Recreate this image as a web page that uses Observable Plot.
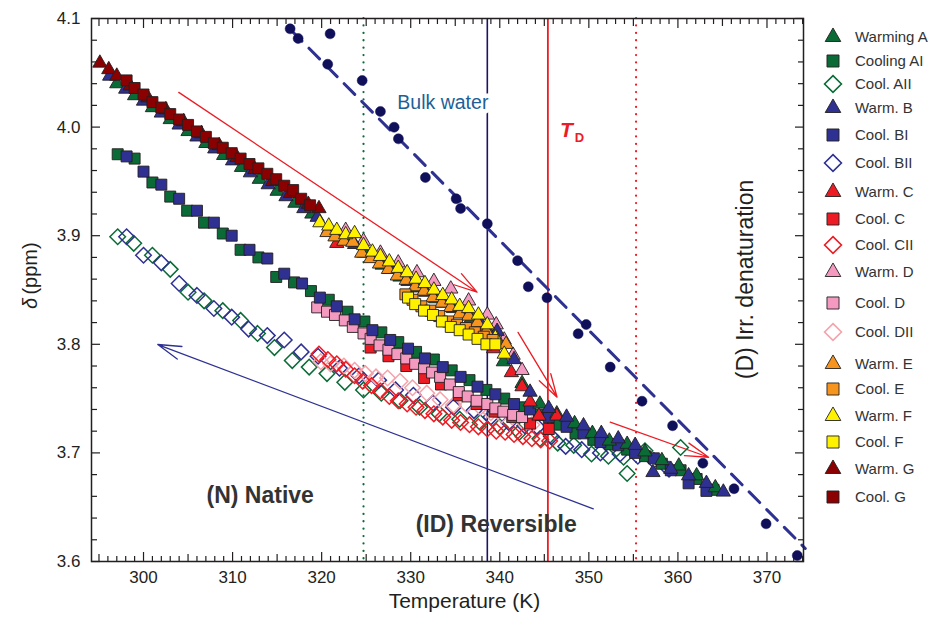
<!DOCTYPE html>
<html><head><meta charset="utf-8">
<script src="https://cdn.jsdelivr.net/npm/d3@7"></script>
<script src="https://cdn.jsdelivr.net/npm/@observablehq/plot@0.6"></script>
<style>
body{margin:0;background:#fff;}
#chart{position:relative;width:933px;height:627px;}
#chart svg{font-family:"Liberation Sans",Arial,Helvetica,sans-serif;}
</style></head><body><div id="chart"></div>
<script>
// ---------- data: [Temperature K, delta ppm] ----------
const warmA = [[297.0,4.040],[299.0,4.029],[301.0,4.018],[303.0,4.007],[305.0,3.996],[307.0,3.985],[309.0,3.974],[311.0,3.963],[313.0,3.952],[315.0,3.941],[317.0,3.930],[318.9,3.920],[320.8,3.906],[322.8,3.896],[324.8,3.884],[326.8,3.873],[328.8,3.862],[330.8,3.852],[332.8,3.842],[334.8,3.833],[336.8,3.824],[338.7,3.812],[340.4,3.784],[342.5,3.764],[344.5,3.745],[346.4,3.736],[348.4,3.727],[350.4,3.718],[352.3,3.711],[354.3,3.708],[356.3,3.701],[358.2,3.693],[360.1,3.688],[362.1,3.679],[364.2,3.668]];
const coolAI = [[297.1,3.975],[299.0,3.971],[301.0,3.949],[303.0,3.936],[304.9,3.923],[306.8,3.912],[308.9,3.902],[310.9,3.887],[312.9,3.880],[314.9,3.862],[316.9,3.857],[318.8,3.849],[320.8,3.841],[322.9,3.830],[324.8,3.821],[326.7,3.811],[328.6,3.802],[330.6,3.793],[332.6,3.786],[334.6,3.776],[336.6,3.767],[338.5,3.758],[340.5,3.750],[342.5,3.742],[344.4,3.735],[346.4,3.726],[348.5,3.718],[350.5,3.712],[352.4,3.708],[354.3,3.703],[356.3,3.697],[358.2,3.690],[360.3,3.684],[362.1,3.676],[364.0,3.666]];
const coolAII = [[297.1,3.899],[298.9,3.893],[301.0,3.882],[303.0,3.869],[305.0,3.848],[306.8,3.840],[308.9,3.831],[310.9,3.822],[312.8,3.810],[314.7,3.797],[316.7,3.785],[318.6,3.779],[320.6,3.773],[322.6,3.765],[324.7,3.758],[326.7,3.755],[328.8,3.748],[331.0,3.742],[333.2,3.736],[335.5,3.731],[337.8,3.728],[340.0,3.724],[342.2,3.719],[344.5,3.713],[346.5,3.709],[348.3,3.707],[350.3,3.699],[352.2,3.697],[353.9,3.696],[354.3,3.681],[356.3,3.702],[360.3,3.705]];
const warmB = [[296.2,4.047],[298.0,4.035],[300.0,4.024],[302.0,4.013],[304.0,4.002],[306.0,3.991],[308.0,3.980],[310.0,3.969],[312.0,3.958],[314.0,3.947],[316.0,3.936],[318.0,3.925],[319.5,3.917],[321.7,3.903],[323.7,3.892],[325.7,3.880],[327.7,3.869],[329.7,3.858],[331.7,3.848],[333.7,3.838],[335.7,3.829],[337.7,3.821],[339.7,3.812],[341.6,3.786],[343.4,3.756],[345.5,3.741],[347.5,3.733],[349.4,3.725],[351.4,3.718],[353.3,3.713],[355.2,3.707],[357.2,3.682],[359.2,3.685],[361.2,3.679],[363.2,3.672],[365.1,3.664]];
const coolBI = [[298.1,3.973],[300.0,3.959],[302.0,3.947],[304.0,3.934],[306.0,3.923],[307.9,3.912],[309.9,3.900],[311.9,3.887],[313.9,3.879],[315.8,3.865],[317.8,3.856],[319.8,3.843],[321.7,3.835],[323.7,3.823],[325.7,3.813],[327.7,3.804],[329.7,3.796],[331.6,3.787],[333.6,3.779],[335.6,3.770],[337.5,3.761],[339.5,3.754],[341.6,3.745],[343.4,3.740],[345.5,3.733],[347.5,3.724],[349.4,3.718],[351.3,3.710],[353.3,3.707],[355.2,3.700],[357.3,3.695],[359.2,3.684],[361.2,3.672],[363.2,3.665]];
const coolBII = [[298.1,3.899],[300.0,3.882],[302.0,3.875],[304.0,3.856],[306.0,3.845],[307.9,3.833],[309.9,3.825],[311.8,3.814],[313.9,3.808],[315.8,3.804],[317.7,3.793],[319.6,3.789],[322.0,3.778],[324.2,3.771],[326.4,3.767],[328.3,3.758],[330.3,3.753],[332.5,3.746],[334.8,3.742],[337.1,3.739],[339.0,3.733],[341.0,3.728],[342.8,3.725],[344.2,3.724],[345.8,3.715],[347.4,3.706],[349.2,3.703],[351.3,3.700],[353.5,3.699],[355.5,3.697],[357.3,3.693],[359.0,3.685]];
const warmC = [[321.7,3.893],[337.8,3.815],[339.3,3.796],[341.3,3.774],[342.5,3.761],[343.4,3.747],[344.4,3.734],[346.4,3.734]];
const coolC = [[325.5,3.797],[327.5,3.789],[329.5,3.780],[331.5,3.769],[333.4,3.763],[335.4,3.753],[337.4,3.745],[339.4,3.738],[341.4,3.733],[343.4,3.727],[345.5,3.722]];
const coolCII = [[319.7,3.791],[320.7,3.786],[321.7,3.782],[322.7,3.777],[323.7,3.771],[324.6,3.766],[325.6,3.762],[326.6,3.757],[327.6,3.752],[328.6,3.748],[329.6,3.745],[330.6,3.742],[331.6,3.739],[332.6,3.736],[333.6,3.733],[334.6,3.730],[335.6,3.728],[336.6,3.726],[337.6,3.724],[338.6,3.722],[339.6,3.720],[340.6,3.719],[341.6,3.717],[342.6,3.715],[343.6,3.713],[344.6,3.712],[345.6,3.711]];
const warmD = [[322.7,3.905],[324.7,3.895],[326.6,3.884],[328.6,3.875],[330.7,3.866],[332.6,3.858],[334.5,3.851],[336.5,3.840],[338.6,3.827],[339.6,3.818],[340.5,3.804],[341.5,3.790],[342.5,3.776]];
const coolD = [[319.5,3.834],[320.6,3.830],[321.5,3.827],[322.6,3.822],[323.5,3.816],[324.7,3.810],[325.5,3.805],[326.5,3.799],[327.5,3.795],[328.5,3.791],[329.5,3.787],[330.5,3.782],[331.5,3.778],[332.4,3.774],[333.3,3.770],[334.4,3.763],[335.4,3.756],[336.4,3.752],[337.4,3.748],[338.6,3.745],[339.5,3.741],[340.4,3.738],[341.5,3.735],[342.5,3.733]];
const coolDII = [[319.9,3.784],[321.0,3.782],[322.5,3.780],[323.7,3.776],[324.9,3.773],[326.1,3.770],[327.4,3.769],[328.8,3.766],[330.2,3.760],[331.8,3.755],[333.3,3.749],[334.8,3.744],[336.3,3.744],[337.8,3.742],[339.0,3.737],[340.2,3.735],[341.4,3.733],[342.6,3.729],[343.6,3.726]];
const warmE = [[320.6,3.903],[321.5,3.899],[322.5,3.895],[323.5,3.894],[324.5,3.884],[325.5,3.879],[326.5,3.874],[327.5,3.869],[328.5,3.863],[329.5,3.859],[330.5,3.853],[331.5,3.849],[332.5,3.843],[333.5,3.838],[334.5,3.834],[335.5,3.828],[336.5,3.826],[337.5,3.820],[338.5,3.812],[339.6,3.806],[340.7,3.800]];
const coolE = [[329.4,3.846],[330.2,3.841],[331.2,3.835],[332.2,3.831],[333.2,3.826],[334.2,3.821],[335.2,3.818],[336.2,3.815],[337.2,3.811],[338.2,3.807],[339.2,3.804]];
const warmF = [[319.8,3.912],[320.8,3.909],[321.7,3.905],[322.7,3.901],[323.7,3.902],[324.7,3.891],[325.7,3.885],[326.6,3.881],[327.6,3.876],[328.6,3.870],[329.6,3.866],[330.6,3.860],[331.6,3.856],[332.6,3.850],[333.6,3.845],[334.6,3.841],[335.5,3.835],[336.5,3.833],[337.6,3.827],[338.6,3.818],[339.5,3.806],[340.5,3.791]];
const coolF = [[329.7,3.843],[330.5,3.837],[331.5,3.831],[332.5,3.827],[333.5,3.821],[334.5,3.816],[335.5,3.813],[336.5,3.809],[337.5,3.805],[338.5,3.800],[339.5,3.800]];
const warmG = [[295.1,4.059],[296.1,4.053],[297.0,4.047],[298.5,4.038],[300.5,4.027],[302.5,4.016],[304.5,4.005],[306.5,3.994],[308.5,3.983],[310.5,3.972],[312.5,3.961],[314.5,3.950],[316.5,3.939],[318.5,3.929],[319.7,3.925]];
const coolG = [[298.1,4.043],[299.0,4.036],[300.0,4.030],[301.0,4.023],[302.0,4.018],[303.0,4.012],[304.0,4.007],[305.0,4.002],[306.0,3.996],[307.0,3.991],[307.9,3.985],[308.9,3.981],[309.9,3.976],[310.9,3.971],[311.9,3.966],[312.9,3.962],[313.9,3.957],[314.9,3.952],[315.8,3.946],[316.8,3.942],[317.7,3.934],[318.7,3.928]];
// bulk water
const bulkT = [316.46,317.36,320.95,320.68,324.55,326.60,328.14,328.62,331.65,335.1,335.6,338.6,342.0,343.2,345.3,349.7,348.8,352.4,355.97,359.4,362.8,366.3,369.9,373.4];
const bulkD = [4.0905,4.0816,4.0859,4.0579,4.0429,4.0144,3.9999,3.9892,3.9536,3.934,3.925,3.911,3.877,3.853,3.8428,3.8182,3.8097,3.779,3.7476,3.725,3.6905,3.667,3.6347,3.6055];
const bulkFit = [[316.6,4.089],[374.3,3.612]];
// transition temperatures (vertical lines)
const tGreenDot = 324.7, tNavy = 338.6, tRed = 345.4, tRedDot = 355.3;
// arrows [x1,y1,x2,y2]
const redArrows = [[303.96,4.032,337.45,3.848],[342.05,3.811,346.43,3.7513],[352.4,3.7283,363.45,3.696]];
const blueArrows = [[350.5,3.6485,301.6,3.7998]];
// axis ticks
const xLabelTicks = [300,310,320,330,340,350,360,370];
const yLabelTicks = [3.6,3.7,3.8,3.9,4.0,4.1];

// ---------- styles ----------
const C = {green:"#0b6b37", blue:"#2e3192", red:"#ed1c24", pink:"#f49ac1", pinkD:"#f5a3aa", orange:"#f7941d", yellow:"#fff200", dred:"#8b0000"};
const series = [
  {name:"Cool. AII", data:coolAII, sym:"diamond2", color:C.green},
  {name:"Cool. BII", data:coolBII, sym:"diamond2", color:C.blue},
  {name:"Cool. DII", data:coolDII, sym:"diamond2", color:C.pinkD},
  {name:"Cool. CII", data:coolCII, sym:"diamond2", color:C.red},
  {name:"Cooling AI", data:coolAI, sym:"square", color:C.green},
  {name:"Cool. C", data:coolC, sym:"square", color:C.red},
  {name:"Cool. D", data:coolD, sym:"square", color:C.pink},
  {name:"Cool. BI", data:coolBI, sym:"square", color:C.blue},
  {name:"Warming A", data:warmA, sym:"triangle", color:C.green},
  {name:"Warm. C", data:warmC, sym:"triangle", color:C.red},
  {name:"Warm. D", data:warmD, sym:"triangle", color:C.pink},
  {name:"Warm. B", data:warmB, sym:"triangle", color:C.blue},
  {name:"Warm. E", data:warmE, sym:"triangle", color:C.orange},
  {name:"Warm. G", data:warmG, sym:"triangle", color:C.dred},
  {name:"Warm. F", data:warmF, sym:"triangle", color:C.yellow},
  {name:"Cool. E", data:coolE, sym:"square", color:C.orange},
  {name:"Cool. F", data:coolF, sym:"square", color:C.yellow},
  {name:"Cool. G", data:coolG, sym:"square", color:C.dred}
];
const rBySym = {triangle:5.3, square:6.2, diamond2:7.0};

function seriesMark(s){
  const o = {x: d=>d[0], y: d=>d[1], symbol: s.sym, r: rBySym[s.sym]};
  if (s.sym === "diamond2") return Plot.dot(s.data, {...o, fill:"none", stroke:s.color, strokeWidth:1.5});
  return Plot.dot(s.data, {...o, fill:s.color, stroke:"#231f20", strokeWidth:0.9});
}
const tickStyle = {stroke:"#231f20", strokeWidth:1.2, tickFormat:()=>"", label:null};
const x1 = d3.range(295,375).filter(v=>v%5!==0), x5 = d3.range(295,375).filter(v=>v%5===0&&v%10!==0);
const y02 = [3.62,3.64,3.66,3.68,3.72,3.74,3.76,3.78,3.82,3.84,3.86,3.88,3.92,3.94,3.96,3.98,4.02,4.04,4.06,4.08];
// inward ticks: shift each tick by its own length toward the inside of the frame
function inX(ticks, a, len){ return Plot.axisX(ticks,{anchor:a, tickSize:len, dy: a==="bottom" ? -len : len, ...tickStyle}); }
function inY(ticks, a, len){ return Plot.axisY(ticks,{anchor:a, tickSize:len, dx: a==="left" ? len : -len, ...tickStyle}); }

const bulkPts = bulkT.map((t,i)=>({t, d: bulkD[i]}));

const plot = Plot.plot({
  width:933, height:627,
  marginLeft:91, marginRight:130, marginTop:18, marginBottom:66,
  style:{fontFamily:"'Liberation Sans',Arial,Helvetica,sans-serif", color:"#231f20", background:"#fff"},
  x:{domain:[294.16,374.1]},
  y:{domain:[3.6,4.1]},
  marks:[
    ...["bottom","top"].flatMap(a=>[inX(x1,a,5), inX(x5,a,7), inX(xLabelTicks,a,9)]),
    ...["left","right"].flatMap(a=>[inY(y02,a,6), inY(yLabelTicks,a,9)]),
    Plot.axisX(xLabelTicks,{anchor:"bottom", tickSize:0, tickPadding:9, fontSize:17, label:null, fill:"#231f20"}),
    Plot.axisY(yLabelTicks,{anchor:"left", tickSize:0, tickPadding:11, fontSize:17, label:null, tickFormat:d3.format(".1f"), fill:"#231f20"}),
    Plot.text(["Temperature (K)"],{text:d=>d, frameAnchor:"bottom", dy:46, dx:17, fontSize:21, fill:"#231f20"}),
    Plot.text(["(ppm)"],{text:d=>d, x:287.3, y:3.8698, rotate:-90, fontSize:20, fill:"#231f20"}),
    Plot.text(["δ"],{text:d=>d, x:287.3, y:3.8376, rotate:-90, fontSize:20, fontStyle:"italic", fill:"#231f20"}),
    // vertical reference lines
    Plot.ruleX([tGreenDot],{stroke:C.green, strokeWidth:2.2, strokeDasharray:"0.1,7.3", strokeLinecap:"round"}),
    Plot.ruleX([tNavy],{stroke:"#1b1464", strokeWidth:1.6}),
    Plot.ruleX([tRed],{stroke:C.red, strokeWidth:1.8}),
    Plot.ruleX([tRedDot],{stroke:C.red, strokeWidth:2.2, strokeDasharray:"0.1,7.3", strokeLinecap:"round"}),
    // annotations
    Plot.text(["Bulk water"],{text:d=>d, x:338.72, y:4.0227, textAnchor:"end", fontSize:19.5, fill:"#1d5f96", stroke:"white", strokeWidth:9}),
    Plot.text(["T"],{text:d=>d, x:347.47, y:3.9969, fontSize:21, fontWeight:"bold", fontStyle:"italic", fill:C.red}),
    Plot.text(["D"],{text:d=>d, x:348.95, y:3.9904, fontSize:13, fontWeight:"bold", fill:C.red}),
    Plot.text(["(D) Irr. denaturation"],{text:d=>d, x:367.56, y:3.8597, rotate:-90, fontSize:23, fill:"#231f20"}),
    Plot.text(["(N) Native"],{text:d=>d, x:313.1, y:3.661, fontSize:23, fontWeight:"bold", fill:"#333"}),
    Plot.text(["(ID) Reversible"],{text:d=>d, x:339.6, y:3.634, fontSize:23, fontWeight:"bold", fill:"#333"}),
    // bulk water
    Plot.line(bulkFit,{x:d=>d[0], y:d=>d[1], stroke:C.blue, strokeWidth:3, strokeDasharray:"15,10"}),
    Plot.dot(bulkPts,{x:"t", y:"d", r:5, fill:"#10105a", stroke:"#10105a", strokeWidth:0.5}),
    // arrows
    Plot.arrow(redArrows,{x1:d=>d[0], y1:d=>d[1], x2:d=>d[2], y2:d=>d[3], stroke:C.red, strokeWidth:1.3, headLength:28, headAngle:32}),
    Plot.arrow(blueArrows,{x1:d=>d[0], y1:d=>d[1], x2:d=>d[2], y2:d=>d[3], stroke:C.blue, strokeWidth:1.3, headLength:28, headAngle:32}),
    // data series
    ...series.map(seriesMark),
    Plot.frame({stroke:"#231f20", strokeWidth:1.5})
  ]
});
document.getElementById("chart").appendChild(plot);

// ---------- legend ----------
const legendOrder = ["Warming A","Cooling AI","Cool. AII","Warm. B","Cool. BI","Cool. BII","Warm. C","Cool. C","Cool. CII","Warm. D","Cool. D","Cool. DII","Warm. E","Cool. E","Warm. F","Cool. F","Warm. G","Cool. G"];
const legendY = [37,61,84,108,135,163,192,219,245,272,303,332,364,389,416,442,469,497];
const symMap = {triangle:d3.symbolTriangle, square:d3.symbolSquare, diamond2:d3.symbolDiamond2};
const legendSize = {triangle:Math.PI*5.8*5.8, square:Math.PI*6.8*6.8, diamond2:Math.PI*7.6*7.6};
const lg = d3.select(plot).append("g").attr("class","legend");
legendOrder.forEach((name,i)=>{
  const s = series.find(q=>q.name===name);
  const p = lg.append("path")
    .attr("transform",`translate(833,${legendY[i]})`)
    .attr("d", d3.symbol(symMap[s.sym], legendSize[s.sym])());
  if (s.sym==="diamond2") p.attr("fill","none").attr("stroke",s.color).attr("stroke-width",1.6);
  else p.attr("fill",s.color).attr("stroke","#231f20").attr("stroke-width",0.9);
  lg.append("text").attr("x",855).attr("y",legendY[i]).attr("dy","0.35em")
    .attr("text-anchor","start").attr("font-size",15).attr("fill","#333").text(name);
});
</script>
</body></html>
